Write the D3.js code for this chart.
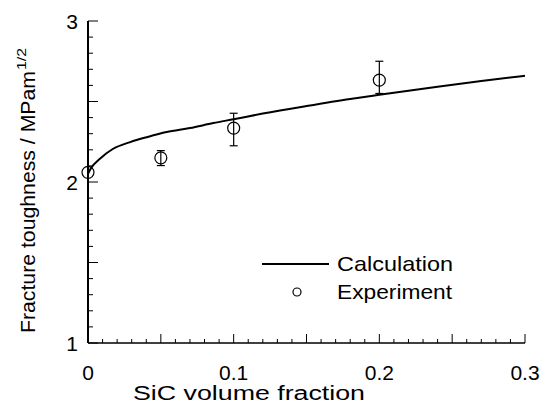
<!DOCTYPE html>
<html>
<head>
<meta charset="utf-8">
<script src="https://cdn.jsdelivr.net/npm/d3@7"></script>
<style>
  body { margin: 0; background: #fff; }
  text { font-family: "Liberation Sans", Arial, sans-serif; fill: #000; }
</style>
</head>
<body>
<div id="chart"></div>
<script>
const width = 546;
const height = 409;

// Calculation curve
const calcX = [0, 0.002, 0.008, 0.017, 0.029, 0.041, 0.054, 0.07, 0.086, 0.1, 0.12, 0.15, 0.18, 0.2, 0.24, 0.27, 0.3];
const calcY = [2.05, 2.085, 2.143, 2.205, 2.248, 2.28, 2.31, 2.335, 2.366, 2.39, 2.425, 2.472, 2.516, 2.542, 2.592, 2.627, 2.66];

// Experiment points with error bars
const expX = [0, 0.05, 0.1, 0.2];
const expY = [2.06, 2.15, 2.335, 2.633];
const expLow = [2.06, 2.102, 2.225, 2.55];
const expHigh = [2.06, 2.195, 2.427, 2.75];

const xTicks = [0, 0.1, 0.2, 0.3];
const yTicks = [1, 2, 3];

const x = d3.scaleLinear().domain([0, 0.3]).range([88, 525]);
const y = d3.scaleLinear().domain([1, 3]).range([343, 21]);

const svg = d3
  .select("#chart")
  .append("svg")
  .attr("width", width)
  .attr("height", height);

// Bottom axis: ticks point inward (up)
const xMinor = d3.range(0, 0.3001, 0.01).map((v) => +v.toFixed(3));
svg
  .append("line")
  .attr("x1", x(0))
  .attr("x2", x(0.3))
  .attr("y1", y(1))
  .attr("y2", y(1))
  .attr("stroke", "#000")
  .attr("stroke-width", 1.5);
svg
  .append("g")
  .selectAll("line")
  .data(xMinor)
  .join("line")
  .attr("x1", (d) => x(d))
  .attr("x2", (d) => x(d))
  .attr("y1", y(1))
  .attr("y2", (d, i) => y(1) - (i % 5 === 0 ? 9 : 4))
  .attr("stroke", "#000")
  .attr("stroke-width", 1);

svg
  .append("g")
  .selectAll("text")
  .data(xTicks)
  .join("text")
  .attr("x", (d) => x(d))
  .attr("y", 380)
  .attr("text-anchor", "middle")
  .attr("font-size", 21)
  .text((d) => (d === 0 ? "0" : d3.format(".1f")(d)));

// Left axis: ticks point inward (right)
const yMinor = d3.range(1, 3.0001, 0.1).map((v) => +v.toFixed(2));
svg
  .append("line")
  .attr("x1", x(0))
  .attr("x2", x(0))
  .attr("y1", y(1))
  .attr("y2", y(3))
  .attr("stroke", "#000")
  .attr("stroke-width", 2);
svg
  .append("g")
  .selectAll("line")
  .data(yMinor)
  .join("line")
  .attr("x1", x(0))
  .attr("x2", (d, i) => x(0) + (i % 5 === 0 ? 10 : 5))
  .attr("y1", (d) => y(d))
  .attr("y2", (d) => y(d))
  .attr("stroke", "#000")
  .attr("stroke-width", 1);

svg
  .append("g")
  .selectAll("text")
  .data(yTicks)
  .join("text")
  .attr("x", 78)
  .attr("y", (d) => y(d) + 8)
  .attr("text-anchor", "end")
  .attr("font-size", 21)
  .text((d) => d);

// Axis titles (reference type is set wide, so stretch to its measured length)
svg
  .append("text")
  .attr("x", 133)
  .attr("y", 400)
  .attr("font-size", 20)
  .attr("textLength", 232)
  .attr("lengthAdjust", "spacingAndGlyphs")
  .text("SiC volume fraction");

const yTitle = svg
  .append("g")
  .attr("transform", "translate(35,333) rotate(-90)");
yTitle
  .append("text")
  .attr("x", 0)
  .attr("y", 0)
  .attr("font-size", 20)
  .attr("textLength", 262)
  .attr("lengthAdjust", "spacingAndGlyphs")
  .text("Fracture toughness / MPam");
yTitle
  .append("text")
  .attr("x", 263)
  .attr("y", -9)
  .attr("font-size", 13)
  .attr("textLength", 22)
  .attr("lengthAdjust", "spacingAndGlyphs")
  .text("1/2");

// Calculation curve
const line = d3
  .line()
  .x((d) => x(d[0]))
  .y((d) => y(d[1]))
  .curve(d3.curveMonotoneX);
svg
  .append("path")
  .datum(calcX.map((v, i) => [v, calcY[i]]))
  .attr("d", line)
  .attr("fill", "none")
  .attr("stroke", "#000")
  .attr("stroke-width", 2);

// Experiment points
const pts = expX.map((v, i) => ({ x: v, y: expY[i], lo: expLow[i], hi: expHigh[i] }));
const eb = svg.append("g").attr("stroke", "#000").attr("stroke-width", 1.2);
pts
  .filter((d) => d.hi > d.lo)
  .forEach((d) => {
    eb.append("line")
      .attr("x1", x(d.x))
      .attr("x2", x(d.x))
      .attr("y1", y(d.lo))
      .attr("y2", y(d.hi));
    [d.lo, d.hi].forEach((v) =>
      eb.append("line")
        .attr("x1", x(d.x) - 4)
        .attr("x2", x(d.x) + 4)
        .attr("y1", y(v))
        .attr("y2", y(v))
    );
  });
svg
  .append("g")
  .selectAll("circle")
  .data(pts)
  .join("circle")
  .attr("cx", (d) => x(d.x))
  .attr("cy", (d) => y(d.y))
  .attr("r", 6)
  .attr("fill", "none")
  .attr("stroke", "#000")
  .attr("stroke-width", 1.2);

// Legend
svg
  .append("line")
  .attr("x1", 262)
  .attr("x2", 329)
  .attr("y1", 264)
  .attr("y2", 264)
  .attr("stroke", "#000")
  .attr("stroke-width", 2);
svg
  .append("circle")
  .attr("cx", 297)
  .attr("cy", 292)
  .attr("r", 4)
  .attr("fill", "none")
  .attr("stroke", "#000")
  .attr("stroke-width", 1.2);
svg
  .append("text")
  .attr("x", 337)
  .attr("y", 271)
  .attr("font-size", 21)
  .attr("textLength", 116)
  .attr("lengthAdjust", "spacingAndGlyphs")
  .text("Calculation");
svg
  .append("text")
  .attr("x", 337)
  .attr("y", 299)
  .attr("font-size", 21)
  .attr("textLength", 115)
  .attr("lengthAdjust", "spacingAndGlyphs")
  .text("Experiment");
</script>
</body>
</html>
